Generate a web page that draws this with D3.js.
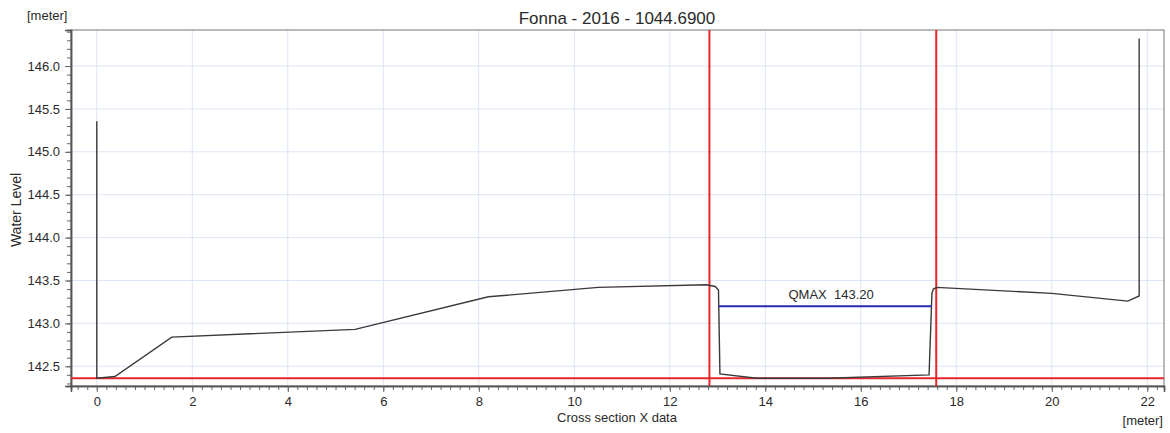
<!DOCTYPE html>
<html><head><meta charset="utf-8">
<script src="https://cdn.jsdelivr.net/npm/d3@7"></script>
<style>body{margin:0;background:#fff;} text{font-family:"Liberation Sans",Arial,sans-serif;fill:#2a2a2a;}</style>
</head><body><svg id="c" width="1170" height="433"></svg>
<script>
const profileX = [0, 0, 0.38, 1.57, 5.41, 8.2, 10.5, 12.77, 12.95, 13.02, 13.05, 13.82, 15.3, 17.43, 17.49, 17.52, 17.59, 20.0, 21.59, 21.83, 21.83];
const profileY = [145.355, 142.36, 142.38, 142.84, 142.93, 143.31, 143.42, 143.45, 143.43, 143.39, 142.41, 142.36, 142.36, 142.40, 143.35, 143.40, 143.42, 143.35, 143.26, 143.32, 146.32];
const markerX = [12.83, 17.58];
const bottomLevel = [142.36];
const qmaxX = [13.02, 17.49];
const qmaxLevel = [143.20];
const qmaxLabel = ["QMAX\u00a0\u00a0143.20"];
const xTicks = [0, 2, 4, 6, 8, 10, 12, 14, 16, 18, 20, 22];
const yTicks = [142.5, 143.0, 143.5, 144.0, 144.5, 145.0, 145.5, 146.0];
const title = "Fonna - 2016 - 1044.6900";

const svg = d3.select("#c");
const L = 71, R = 1164, T = 30, B = 386;
const x = d3.scaleLinear().domain([-0.54, 22.35]).range([L, R]);
const y = d3.scaleLinear().domain([142.27, 146.42]).range([B, T]);

// grid
const g = svg.append("g");
g.selectAll(".gx").data(xTicks).enter().append("line")
  .attr("x1", d => x(d)).attr("x2", d => x(d)).attr("y1", T).attr("y2", B)
  .attr("stroke", "#dde6f4").attr("stroke-width", 1);
g.selectAll(".gy").data(yTicks).enter().append("line")
  .attr("y1", d => y(d)).attr("y2", d => y(d)).attr("x1", L).attr("x2", R)
  .attr("stroke", "#dde6f4").attr("stroke-width", 1);

// frame
svg.append("rect").attr("x", L).attr("y", T).attr("width", R - L).attr("height", B - T)
  .attr("fill", "none").attr("stroke", "#777").attr("stroke-width", 1);

// axes
const xMinor = d3.range(-0.4, 22.35, 0.2).map(v => +v.toFixed(2));
const xAxisMinor = d3.axisBottom(x).tickValues(xMinor).tickSize(4).tickFormat("");
const xAxis = d3.axisBottom(x).tickValues(xTicks).tickSize(6).tickPadding(5).tickFormat(d3.format("d"));
const yMinor = d3.range(142.3, 146.42, 0.1).map(v => +v.toFixed(2));
const yAxisMinor = d3.axisLeft(y).tickValues(yMinor).tickSize(4).tickFormat("");
const yAxis = d3.axisLeft(y).tickValues(yTicks).tickSize(6).tickPadding(5).tickFormat(d3.format(".1f"));

function styleAxis(sel) {
  sel.select(".domain").attr("stroke", "#555").attr("stroke-width", 1.5);
  sel.selectAll(".tick line").attr("stroke", "#666");
  sel.selectAll("text").attr("font-size", 13).attr("fill", "#2a2a2a").attr("font-family", "Liberation Sans, Arial, sans-serif");
}
svg.append("g").attr("transform", `translate(0,${B})`).call(xAxisMinor).call(styleAxis);
svg.append("g").attr("transform", `translate(0,${B})`).call(xAxis).call(styleAxis);
svg.append("g").attr("transform", `translate(${L},0)`).call(yAxisMinor).call(styleAxis);
svg.append("g").attr("transform", `translate(${L},0)`).call(yAxis).call(styleAxis);

// red lines
svg.append("line").attr("x1", L).attr("x2", R).attr("y1", y(bottomLevel[0])).attr("y2", y(bottomLevel[0]))
  .attr("stroke", "#e8262a").attr("stroke-width", 2);
svg.selectAll(".mv").data(markerX).enter().append("line")
  .attr("x1", d => x(d)).attr("x2", d => x(d)).attr("y1", T).attr("y2", B)
  .attr("stroke", "#e8262a").attr("stroke-width", 2);

// profile
const pts = profileX.map((v, i) => [v, profileY[i]]);
svg.append("path").datum(pts)
  .attr("d", d3.line().x(d => x(d[0])).y(d => y(d[1])))
  .attr("fill", "none").attr("stroke", "#3a3a3a").attr("stroke-width", 1.4);

// qmax
svg.append("line").attr("x1", x(qmaxX[0])).attr("x2", x(qmaxX[1]))
  .attr("y1", y(qmaxLevel[0])).attr("y2", y(qmaxLevel[0]))
  .attr("stroke", "#2b2bb0").attr("stroke-width", 2);
svg.append("text").attr("x", x(qmaxX[0]) + 70).attr("y", y(qmaxLevel[0]) - 7)
  .attr("text-anchor", "start").attr("font-size", 13).text(qmaxLabel[0]);

// labels
svg.append("text").attr("x", 617).attr("y", 24).attr("text-anchor", "middle").attr("font-size", 17).text(title);
svg.append("text").attr("x", 27).attr("y", 20).attr("font-size", 13).text("[meter]");
svg.append("text").attr("transform", "translate(21,210) rotate(-90)").attr("text-anchor", "middle").attr("font-size", 14).text("Water Level");
svg.append("text").attr("x", 617).attr("y", 422).attr("text-anchor", "middle").attr("font-size", 13).text("Cross section X data");
svg.append("text").attr("x", 1163).attr("y", 425).attr("text-anchor", "end").attr("font-size", 13).text("[meter]");
</script></body></html>
